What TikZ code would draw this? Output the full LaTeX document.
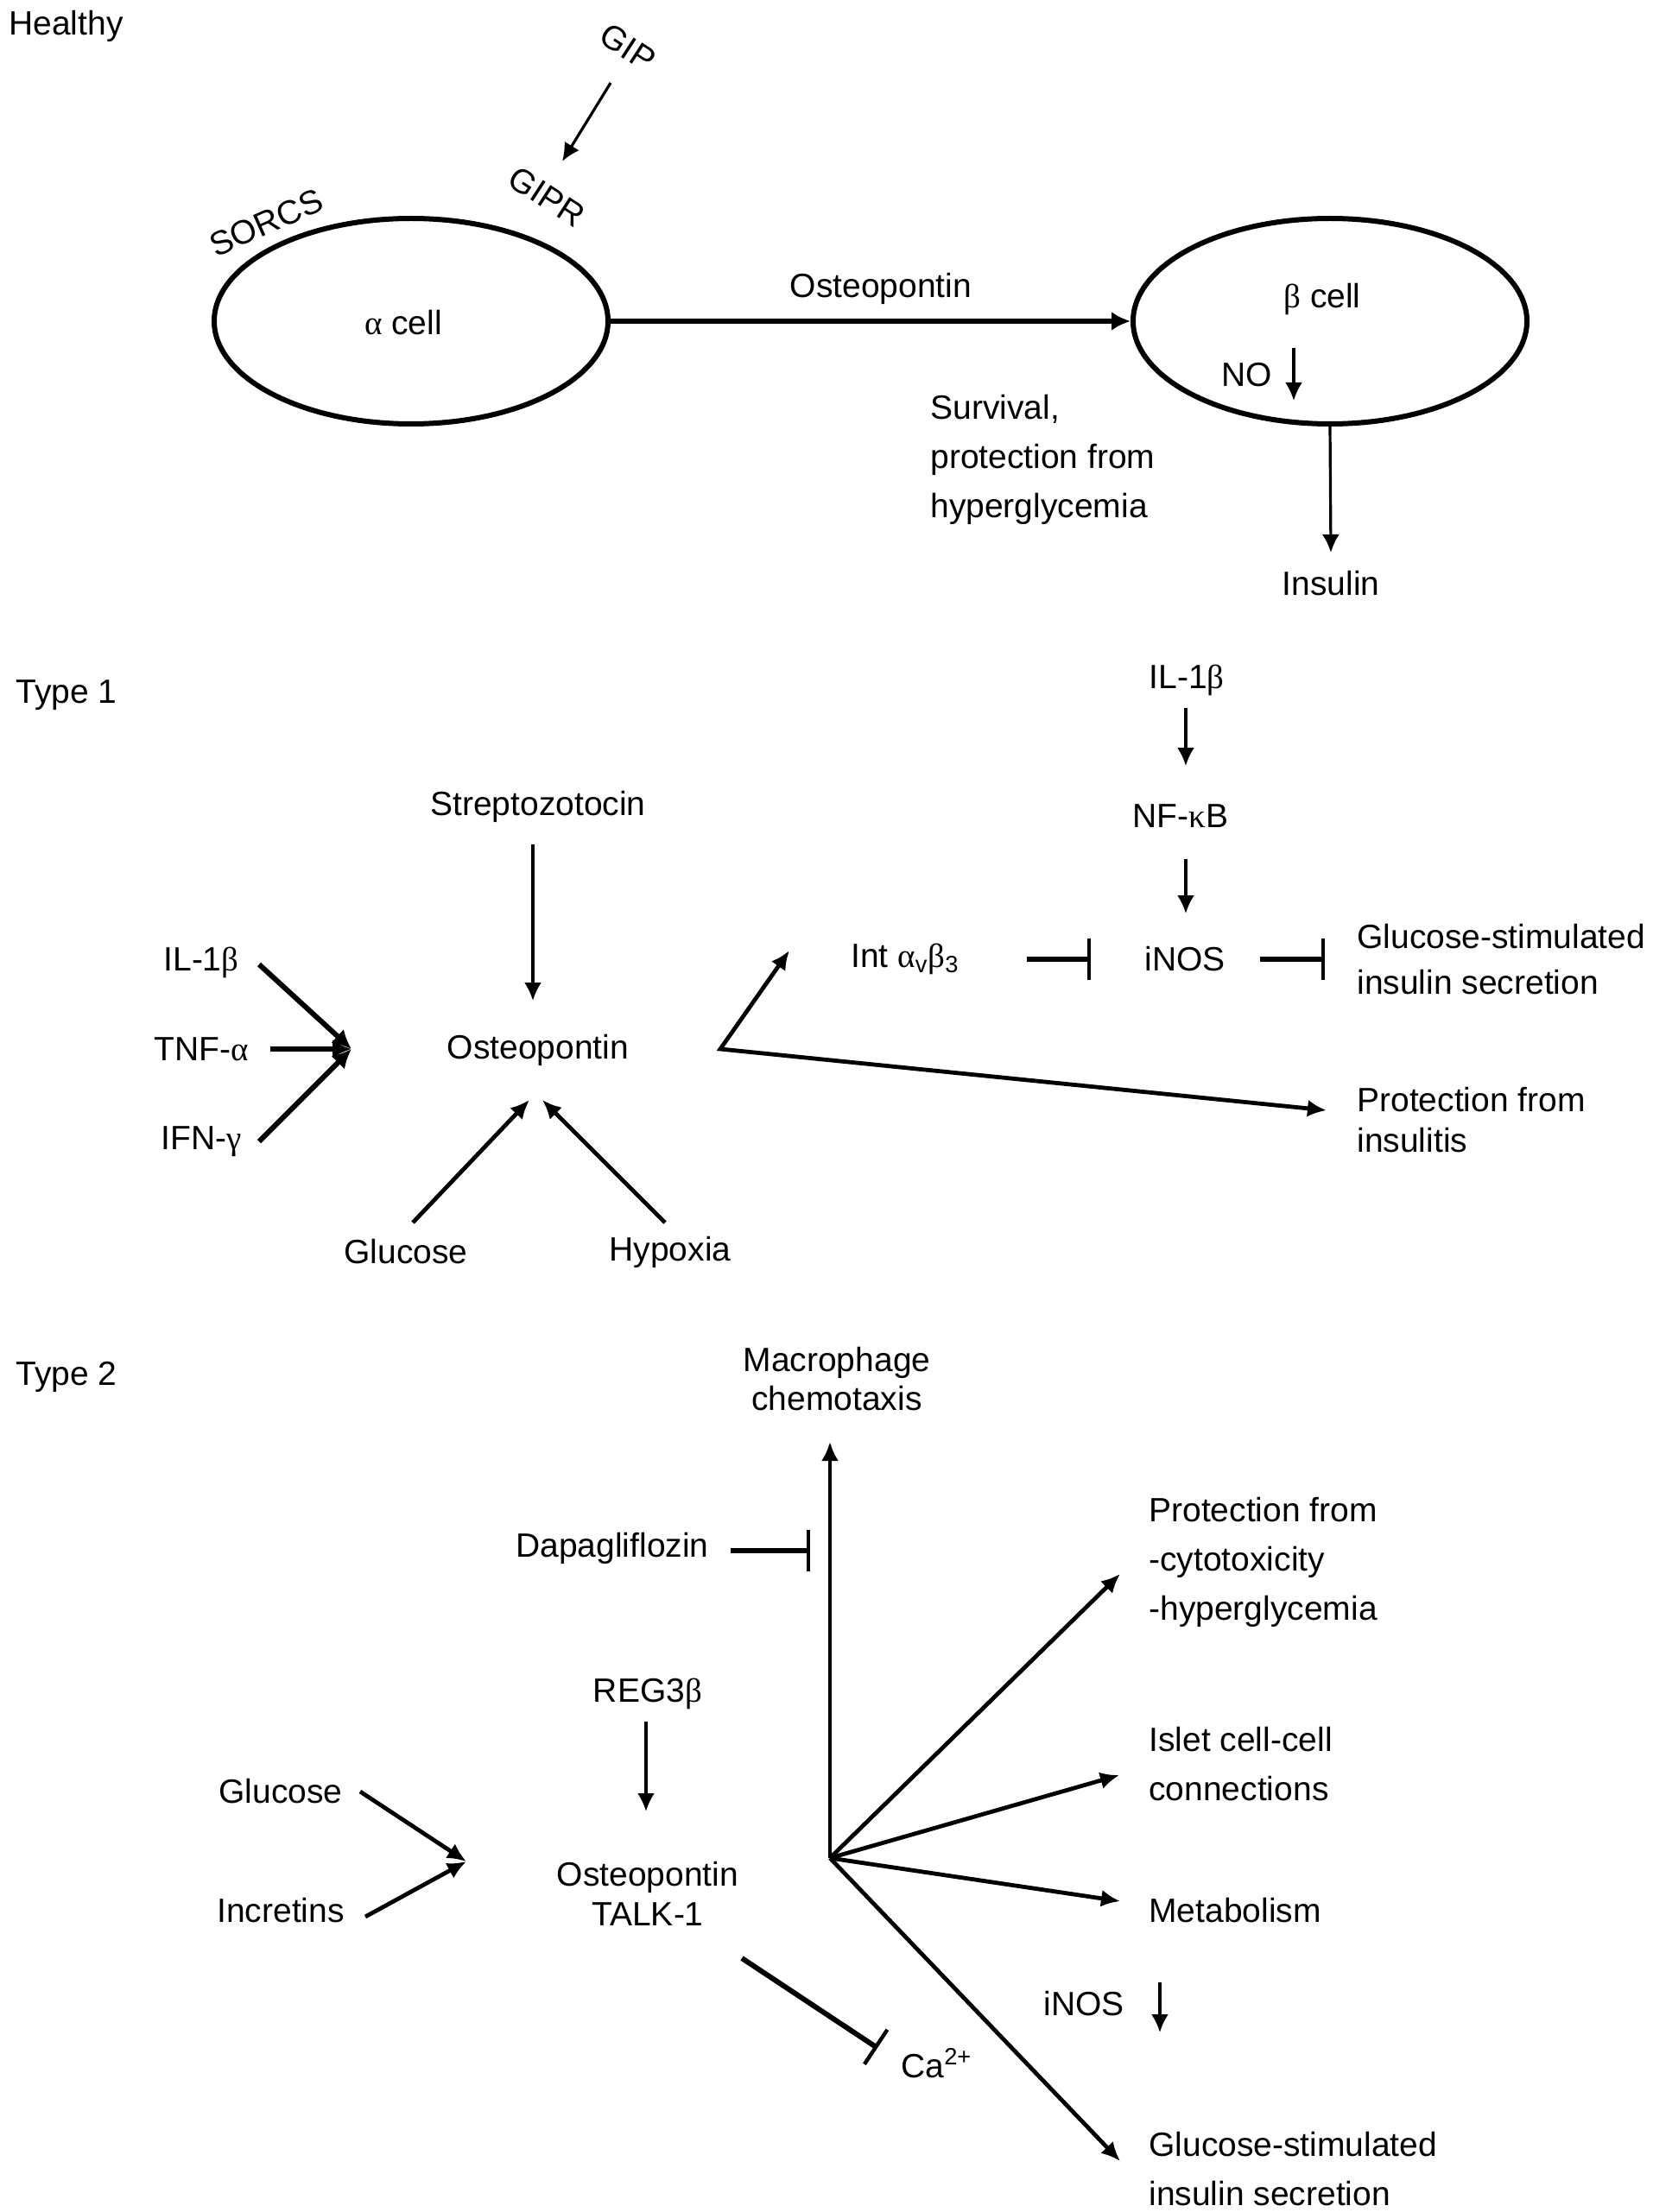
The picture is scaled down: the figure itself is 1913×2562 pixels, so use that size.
\documentclass[tikz,border=0pt]{standalone}
\usepackage{fontspec}
\setmainfont{Liberation Sans}
\newfontfamily\grk{Liberation Serif}
\usetikzlibrary{arrows.meta,shapes.geometric}
\newcommand{\gk}[1]{{\grk #1}}
\begin{document}
\begin{tikzpicture}[x=0.5pt,y=-0.5pt,
  every node/.style={font=\fontsize{19.5}{23}\selectfont, inner sep=0pt},
  cell/.style={draw, ellipse, line width=3pt, minimum width=228pt, minimum height=119pt},
  two/.style={align=left, font=\fontsize{19.5}{28.5}\selectfont},
  twoc/.style={align=center, font=\fontsize{19.5}{23}\selectfont},
  arr/.style={line width=1.6pt, -{Latex[length=10.5pt,width=10pt]}},
  arrM/.style={line width=2.4pt, -{Latex[length=11pt,width=10pt]}},
  arrT/.style={line width=3pt, -{Latex[length=11pt,width=11pt]}},
  inh/.style={line width=3pt, -{Bar[width=24pt,line width=2.2pt]}},
]
\useasboundingbox (0,0) rectangle (1913,2562);

% ---------------- Healthy ----------------
\node[anchor=west] (healthy) at (10,30) {Healthy};
\node[rotate=-33] (gip) at (727,55) {GIP};
\node[rotate=-33] (gipr) at (633,228) {GIPR};
\node[rotate=24] (sorcs) at (308,258) {SORCS};
\node[cell] (acell) at (476,372) {};
\node[cell] (bcell) at (1540,372) {};
\node (alab) at (467,374) {\gk{α} cell};
\node (blab) at (1531,347) {\gk{β} cell};
\node (ost0) at (1020,334) {Osteopontin};
\node (no) at (1444,434) {NO};
\node[anchor=west, two] (surv) at (1077,532) {Survival,\\protection from\\hyperglycemia};
\node (insulin) at (1541,676) {Insulin};

\coordinate (gipS) at (707,96);
\coordinate (gipT) at (651,187);
\coordinate (noS) at (1498,403);
\coordinate (noT) at (1498,464);
\coordinate (insT) at (1541,640);

\draw[arr] (gipS) -- (gipT);
\draw[arrT] (acell.east) -- (bcell.west);
\draw[arr] (noS) -- (noT);
\draw[arr] (bcell.south) -- (insT);

% ---------------- Type 1 ----------------
\node[anchor=west] (type1) at (18,805) {Type 1};
\node (il1bT) at (1374,788) {IL-1\gk{β}};
\node (nfkb) at (1367,945) {NF-\gk{κ}B};
\node (inos1) at (1372,1111) {iNOS};
\node (int) at (1048,1111) {Int \gk{α}\textsubscript{v}\gk{β}\textsubscript{3}};
\node[anchor=west, align=left, font=\fontsize{19.5}{26.5}\selectfont] (gsis1) at (1571,1111) {Glucose-stimulated\\insulin secretion};
\node[anchor=west, align=left, font=\fontsize{19.5}{23.5}\selectfont] (insul) at (1571,1297) {Protection from\\insulitis};
\node (strep) at (623,934) {Streptozotocin};
\node (ost1) at (623,1216) {Osteopontin};
\node (il1bL) at (233,1115) {IL-1\gk{β}};
\node (tnf) at (233,1215) {TNF-\gk{α}};
\node (ifn) at (233,1322) {IFN-\gk{γ}};
\node (gluc1) at (470,1450) {Glucose};
\node (hyp) at (776,1450) {Hypoxia};

\coordinate (c1a) at (1373,820);  \coordinate (c1b) at (1373,887);
\coordinate (c2a) at (1373,995);  \coordinate (c2b) at (1373,1058);
\coordinate (c3a) at (617,978);   \coordinate (c3b) at (617,1159);
\coordinate (il1bS) at (300,1117);
\coordinate (tnfS) at (313,1215);
\coordinate (ifnS) at (300,1322);
\coordinate (cyt) at (407,1215);
\coordinate (glS) at (478,1416);  \coordinate (glT) at (613,1274);
\coordinate (hyS) at (770,1416);  \coordinate (hyT) at (628,1274);
\coordinate (hub1) at (834,1215);
\coordinate (intT) at (914,1101);
\coordinate (insulT) at (1536,1286);
\coordinate (i1a) at (1189,1111); \coordinate (i1b) at (1263,1111);
\coordinate (i2a) at (1459,1111); \coordinate (i2b) at (1534,1111);

\draw[arr] (c1a) -- (c1b);
\draw[arr] (c2a) -- (c2b);
\draw[arr] (c3a) -- (c3b);
\draw[arrT] (il1bS) -- (cyt);
\draw[arrT] (tnfS) -- (cyt);
\draw[arrT] (ifnS) -- (cyt);
\draw[arrM] (glS) -- (glT);
\draw[arrM] (hyS) -- (hyT);
\draw[arrM, {Latex[length=11pt,width=10pt]}-{Latex[length=11pt,width=10pt]}] (intT) -- (hub1) -- (insulT);
\draw[inh] (i1a) -- (i1b);
\draw[inh] (i2a) -- (i2b);

% ---------------- Type 2 ----------------
\node[anchor=west] (type2) at (18,1595) {Type 2};
\node[twoc, font=\fontsize{19.5}{22.5}\selectfont] (macro) at (969,1597) {Macrophage\\chemotaxis};
\node (dapa) at (709,1793) {Dapagliflozin};
\node[anchor=west, two] (prot2) at (1330,1809) {Protection from\\-cytotoxicity\\-hyperglycemia};
\node (reg) at (750,1962) {REG3\gk{β}};
\node[anchor=west, two] (islet) at (1330,2043) {Islet cell-cell\\connections};
\node (gluc2) at (325,2075) {Glucose};
\node (incr) at (325,2213) {Incretins};
\node[twoc] (ost2) at (750,2193) {Osteopontin\\TALK-1};
\node[anchor=west] (metab) at (1330,2213) {Metabolism};
\node (inos2) at (1255,2321) {iNOS};
\node[anchor=west] (ca) at (1043,2390) {Ca\textsuperscript{2+}};
\node[anchor=west, two] (gsis2) at (1330,2512) {Glucose-stimulated\\insulin secretion};

\coordinate (hub2) at (961,2152);
\coordinate (macT) at (961,1670);
\coordinate (dpS) at (846,1796);  \coordinate (dpT) at (938,1796);
\coordinate (protT) at (1297,1823);
\coordinate (isleT) at (1296,2056);
\coordinate (metT) at (1297,2202);
\coordinate (gsT) at (1297,2503);
\coordinate (regS) at (748,1994); \coordinate (regT) at (748,2098);
\coordinate (g2S) at (417,2075);  \coordinate (incS) at (423,2220);
\coordinate (cyt2) at (540,2156);
\coordinate (inS) at (1343,2296); \coordinate (inT) at (1343,2354);
\coordinate (caS) at (859,2268);  \coordinate (caT) at (1016,2372);

\draw[arrM, line width=2pt] (hub2) -- (macT);
\draw[inh] (dpS) -- (dpT);
\draw[arrM] (hub2) -- (protT);
\draw[arrM] (hub2) -- (isleT);
\draw[arrM] (hub2) -- (metT);
\draw[arrM] (hub2) -- (gsT);
\draw[arr] (regS) -- (regT);
\draw[arrM] (g2S) -- (cyt2);
\draw[arrM] (incS) -- (cyt2);
\draw[arr] (inS) -- (inT);
\draw[inh] (caS) -- (caT);
\end{tikzpicture}
\end{document}
